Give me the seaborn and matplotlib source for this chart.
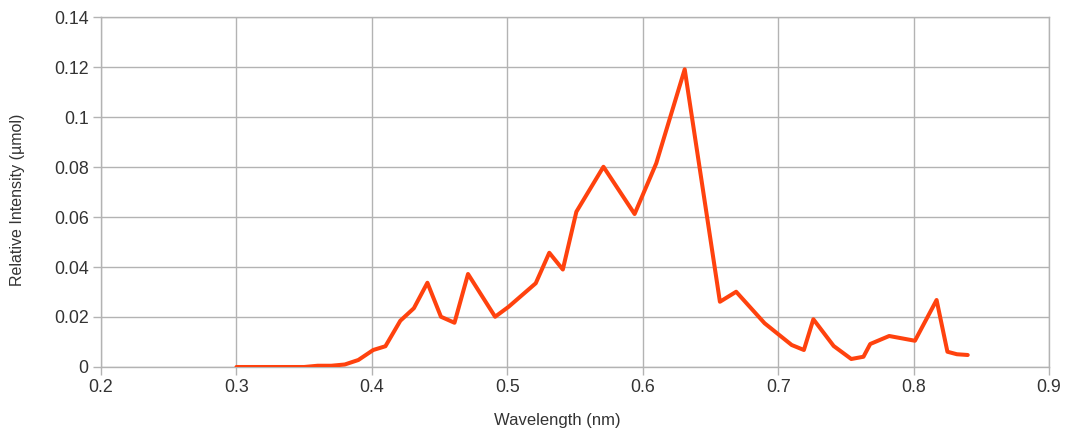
import matplotlib
matplotlib.use("Agg")
import matplotlib.pyplot as plt
import seaborn as sns
import pandas as pd

# Spectrum samples: wavelength (nm) and relative intensity (µmol)
wavelength = [0.300, 0.310, 0.320, 0.330, 0.340, 0.350, 0.360, 0.370, 0.380,
              0.390, 0.401, 0.410, 0.421, 0.431, 0.441, 0.451, 0.461, 0.471,
              0.491, 0.501, 0.521, 0.531, 0.541, 0.551, 0.571, 0.594, 0.610,
              0.631, 0.657, 0.669, 0.690, 0.710, 0.719, 0.726, 0.741, 0.754,
              0.763, 0.768, 0.782, 0.801, 0.817, 0.825, 0.832, 0.840]
intensity = [0.0, 0.0, 0.0, 0.0, 0.0, 0.0, 0.0005, 0.0005, 0.0010,
             0.0028, 0.0068, 0.0083, 0.0185, 0.0235, 0.0337, 0.0201, 0.0177, 0.0372,
             0.0201, 0.0241, 0.0335, 0.0457, 0.0390, 0.0621, 0.0801, 0.0612, 0.0815,
             0.1191, 0.0261, 0.0301, 0.0175, 0.0088, 0.0068, 0.0191, 0.0084, 0.0032,
             0.0041, 0.0092, 0.0124, 0.0105, 0.0268, 0.0061, 0.0051, 0.0048]

x_ticks = [0.2, 0.3, 0.4, 0.5, 0.6, 0.7, 0.8, 0.9]
x_tick_labels = ["0.2", "0.3", "0.4", "0.5", "0.6", "0.7", "0.8", "0.9"]
y_ticks = [0, 0.02, 0.04, 0.06, 0.08, 0.1, 0.12, 0.14]
y_tick_labels = ["0", "0.02", "0.04", "0.06", "0.08", "0.1", "0.12", "0.14"]

df = pd.DataFrame({"Wavelength": wavelength, "Intensity": intensity})

sns.set_style("white")
plt.rcParams["font.family"] = ["Liberation Sans", "DejaVu Sans"]

fig = plt.figure(figsize=(10.68, 4.37), dpi=100)
ax = fig.add_axes([0.0946, 0.1602, 0.8876, 0.8008])

sns.lineplot(data=df, x="Wavelength", y="Intensity", ax=ax,
             color="#ff420e", linewidth=2.9, zorder=3)

grid_c = "#b3b3b3"
ax.set_xlim(0.2, 0.9)
ax.set_ylim(0, 0.14)
ax.set_xticks(x_ticks)
ax.set_xticklabels(x_tick_labels)
ax.set_yticks(y_ticks)
ax.set_yticklabels(y_tick_labels)
ax.grid(True, color=grid_c, linewidth=1.0)
ax.set_axisbelow(True)
for s in ax.spines.values():
    s.set_color(grid_c)
    s.set_linewidth(1.0)
ax.tick_params(axis="both", which="major", left=True, bottom=True,
               direction="out", length=6, width=1.0,
               color=grid_c, labelsize=12.8, labelcolor="#333333", pad=3)

ax.set_xlabel("Wavelength (nm)", fontsize=12, color="#333333")
ax.set_ylabel("Relative Intensity (µmol)", fontsize=11.5, color="#333333")
ax.xaxis.label.set_va("center")
ax.yaxis.label.set_va("center")
ax.xaxis.set_label_coords(0.481, -0.154)
ax.yaxis.set_label_coords(-0.088, 0.477)

fig.savefig("out.png", dpi=100)
